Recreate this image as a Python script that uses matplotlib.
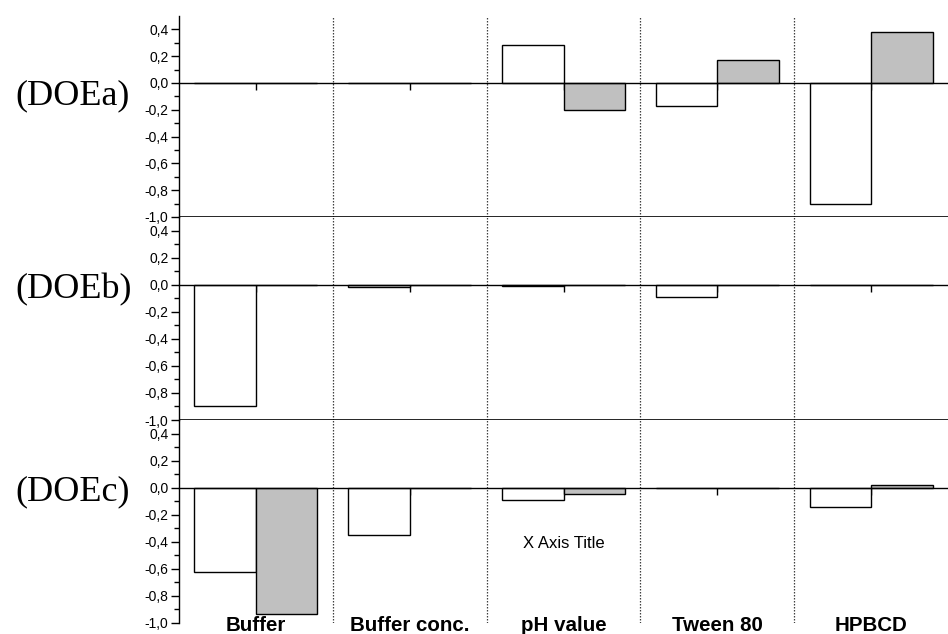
import numpy as np
import matplotlib
matplotlib.use("Agg")
import matplotlib.pyplot as plt
from matplotlib.ticker import FixedLocator, FuncFormatter
from matplotlib.transforms import blended_transform_factory

plt.rcParams['font.family'] = ['Liberation Sans', 'DejaVu Sans']

# Data
categories = ["Buffer", "Buffer conc.", "pH value", "Tween 80", "HPBCD"]
panel_names = ["(DOEa)", "(DOEb)", "(DOEc)"]
doea_white = [0.0, 0.0, 0.28, -0.17, -0.90]
doea_grey = [0.0, 0.0, -0.20, 0.17, 0.38]
doeb_white = [-0.90, -0.02, -0.01, -0.09, 0.0]
doeb_grey = [0.0, 0.0, 0.0, 0.0, 0.0]
doec_white = [-0.62, -0.35, -0.09, 0.0, -0.145]
doec_grey = [-0.93, 0.0, -0.05, 0.0, 0.02]

white_series = [doea_white, doeb_white, doec_white]
grey_series = [doea_grey, doeb_grey, doec_grey]

W, H = 948, 634
fig = plt.figure(figsize=(W / 100, H / 100), dpi=100)

x = np.arange(1, len(categories) + 1)
bw = 0.4

def comma_fmt(v, pos):
    if abs(v) < 1e-9:
        v = 0.0
    return f"{v:.1f}".replace(".", ",")

# panel pixel extents (top, bottom)
extents = [(16, 217), (217, 420), (420, 623)]
label_centers = [96, 290, 492]
left_px = 179

axes = []
for i, (top, bot) in enumerate(extents):
    ax = fig.add_axes([left_px / W, (H - bot) / H, (W - left_px) / W, (bot - top) / H])
    ax.set_facecolor("none")
    ax.bar(x - bw / 2, white_series[i], width=bw, color="white",
           edgecolor="black", linewidth=1.0, zorder=3)
    ax.bar(x + bw / 2, grey_series[i], width=bw, color="#c0c0c0",
           edgecolor="black", linewidth=1.0, zorder=3)

    ax.set_xlim(0.5, 5.5)
    ax.set_ylim(-1.0, 0.5)

    for sep in [1.5, 2.5, 3.5, 4.5]:
        ax.axvline(sep, color="0.25", linestyle=(0, (1.2, 1.2)), linewidth=0.9, zorder=1)

    ax.spines["top"].set_visible(False)
    ax.spines["right"].set_visible(False)
    ax.spines["bottom"].set_position(("data", 0))
    ax.spines["bottom"].set_zorder(4)
    ax.spines["left"].set_linewidth(1.0)
    ax.spines["bottom"].set_linewidth(1.0)
    if i < 2:
        ax.axhline(-1.0, color="black", linewidth=1.2, zorder=4)

    ax.set_xticks(x)
    ax.set_xticklabels([])
    ax.tick_params(axis="x", direction="out", length=5, width=1.0)

    ax.yaxis.set_major_locator(FixedLocator(np.arange(-1.0, 0.41, 0.2)))
    ax.yaxis.set_minor_locator(FixedLocator(np.arange(-0.9, 0.31, 0.2)))
    ax.yaxis.set_major_formatter(FuncFormatter(comma_fmt))
    ax.tick_params(axis="y", which="major", direction="out", length=6, width=1.0,
                   pad=1.5, labelsize=10)
    ax.tick_params(axis="y", which="minor", direction="out", length=3.5, width=1.0)

    fig.text(15 / W, (H - label_centers[i]) / H, panel_names[i], ha="left", va="center",
             fontsize=26, family=["Liberation Serif", "DejaVu Serif"])
    axes.append(ax)

ax3 = axes[2]
trans = blended_transform_factory(ax3.transData, fig.transFigure)
for xi, name in zip(x, categories):
    ax3.text(xi, 3 / H, name, transform=trans, ha="center", va="baseline",
             fontsize=14.8, fontweight="bold", clip_on=False)

ax3.text(3, -0.41, "X Axis Title", ha="center", va="center", fontsize=12)

fig.savefig("out.png", dpi=100)
